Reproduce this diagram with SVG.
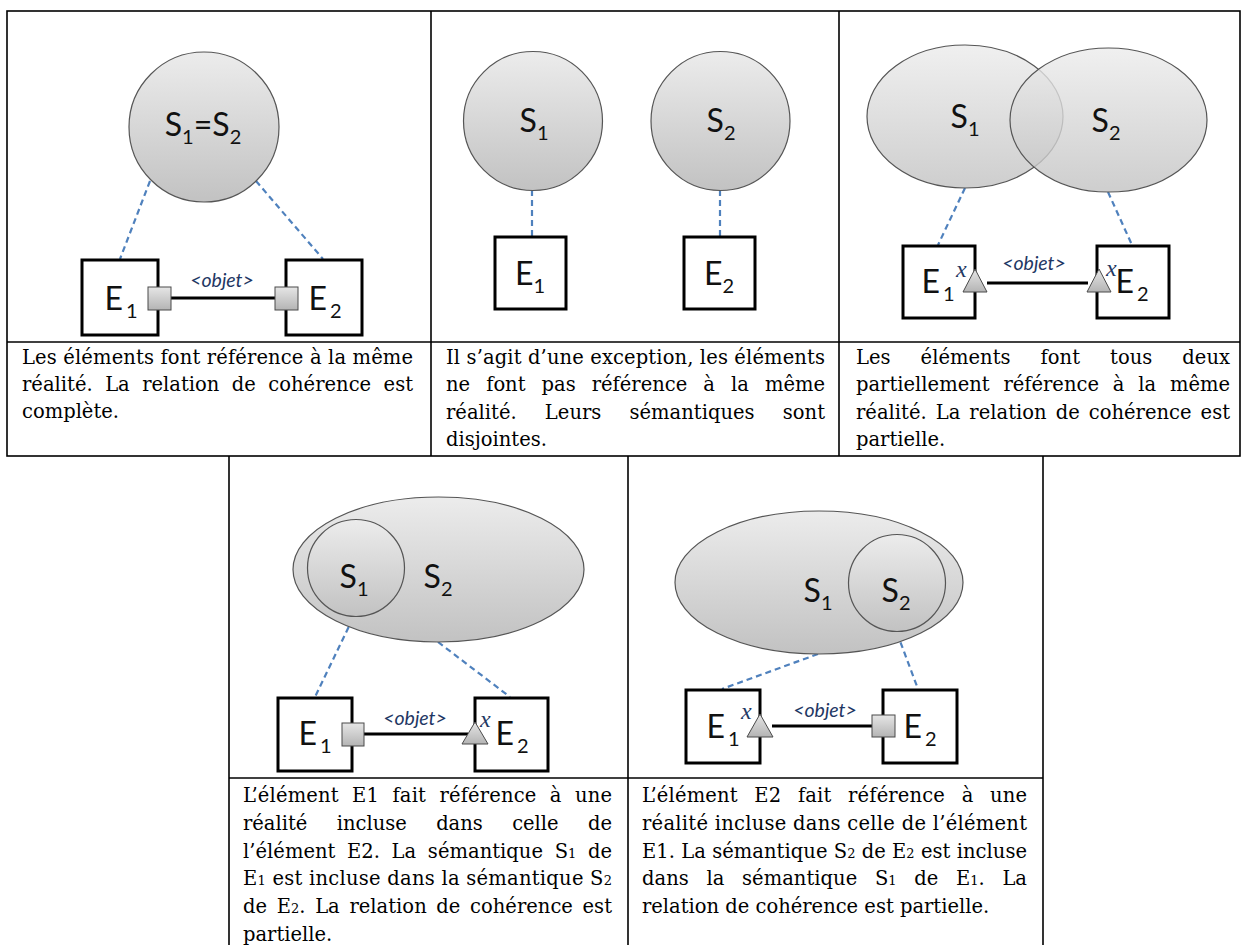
<svg xmlns="http://www.w3.org/2000/svg" width="1243" height="945" viewBox="0 0 1243 945">
<defs>
<linearGradient id="g" x1="0" y1="0" x2="0" y2="1"><stop offset="0" stop-color="#ececec"/><stop offset="1" stop-color="#c2c2c2"/></linearGradient>
<linearGradient id="gp" x1="0" y1="0" x2="0" y2="1"><stop offset="0" stop-color="#e6e6e6"/><stop offset="1" stop-color="#b4b4b4"/></linearGradient>
<style>
.cell{fill:none;stroke:#000;stroke-width:1.6}
.box{fill:#fff;stroke:#000;stroke-width:3}
.sem{fill:url(#g);stroke:#555;stroke-width:1.2}
.semt{fill:url(#g);fill-opacity:.8;stroke:#555;stroke-width:1.2}
.dash{stroke:#4F81BD;stroke-width:2.2;stroke-dasharray:6 4;fill:none}
.link{stroke:#000;stroke-width:3;fill:none}
.port{fill:url(#gp);stroke:#4a4a4a;stroke-width:1}
.lbl{font-family:Lato,"Liberation Sans",sans-serif;font-size:32px;fill:#111;text-anchor:middle}
.sub{font-size:20px}
.obj{font-family:Lato,"Liberation Sans",sans-serif;font-style:italic;font-size:19.5px;fill:#1F3864;text-anchor:middle}
.xl{font-family:"Liberation Serif",serif;font-style:italic;font-size:24px;fill:#1F3864}
.cap{font-family:"DejaVu Serif","Liberation Serif",serif;font-size:19.5px;fill:#000}
.cs{font-size:13px}
</style>
</defs>

<g id="table">
<rect class="cell" x="7" y="11" width="1233" height="445"/>
<line class="cell" x1="7" y1="342" x2="1240" y2="342"/>
<line class="cell" x1="431" y1="11" x2="431" y2="456"/>
<line class="cell" x1="839" y1="11" x2="839" y2="456"/>
<line class="cell" x1="229" y1="456" x2="229" y2="945"/>
<line class="cell" x1="628" y1="456" x2="628" y2="945"/>
<line class="cell" x1="1043" y1="456" x2="1043" y2="945"/>
<line class="cell" x1="229" y1="778" x2="1043" y2="778"/>
</g>

<g id="connectors">
<line class="dash" x1="150" y1="181" x2="120" y2="259"/>
<line class="dash" x1="256" y1="181" x2="323" y2="259"/>
<line class="link" x1="171" y1="298" x2="275" y2="298"/>
<line class="dash" x1="532" y1="190" x2="532" y2="236"/>
<line class="dash" x1="720" y1="190" x2="720" y2="236"/>
<line class="dash" x1="965" y1="188" x2="938" y2="245"/>
<line class="dash" x1="1108" y1="192" x2="1132" y2="245"/>
<line class="link" x1="987" y1="283" x2="1088" y2="283"/>
<line class="dash" x1="353" y1="618" x2="315" y2="697"/>
<line class="dash" x1="438" y1="642" x2="510" y2="697"/>
<line class="link" x1="364" y1="734" x2="468" y2="734"/>
<line class="dash" x1="818" y1="654" x2="722" y2="689"/>
<line class="dash" x1="897" y1="633" x2="918" y2="689"/>
<line class="link" x1="772" y1="726" x2="872" y2="726"/>
</g>

<g id="panel1">
<circle class="sem" cx="204" cy="127" r="75"/>
<text class="lbl" x="203" y="136">S<tspan class="sub" dy="8">1</tspan><tspan dy="-8">=S</tspan><tspan class="sub" dy="8">2</tspan></text>
<rect class="box" x="82" y="260" width="76" height="75"/>
<rect class="box" x="286" y="260" width="76" height="75"/>
<text class="lbl" x="121" y="310">E<tspan class="sub" dx="3" dy="8">1</tspan></text>
<text class="lbl" x="325" y="310">E<tspan class="sub" dx="3" dy="8">2</tspan></text>
<rect class="port" x="148" y="287" width="23" height="23"/>
<rect class="port" x="275" y="287" width="23" height="23"/>
<text class="obj" x="222" y="287">&lt;objet&gt;</text>
</g>

<g id="panel2">
<circle class="sem" cx="533" cy="121" r="69.5"/>
<circle class="sem" cx="720.5" cy="121" r="69.5"/>
<text class="lbl" x="534" y="132">S<tspan class="sub" dy="8">1</tspan></text>
<text class="lbl" x="721" y="132">S<tspan class="sub" dy="8">2</tspan></text>
<rect class="box" x="495" y="237" width="71" height="72"/>
<rect class="box" x="684" y="237" width="71" height="72"/>
<text class="lbl" x="530" y="285">E<tspan class="sub" dy="8">1</tspan></text>
<text class="lbl" x="719" y="285">E<tspan class="sub" dy="8">2</tspan></text>
</g>

<g id="panel3">
<ellipse class="semt" cx="965" cy="116.5" rx="98" ry="71.5"/>
<ellipse class="semt" cx="1108.5" cy="120" rx="98.5" ry="72"/>
<text class="lbl" x="965" y="128">S<tspan class="sub" dy="8">1</tspan></text>
<text class="lbl" x="1106" y="132">S<tspan class="sub" dy="8">2</tspan></text>
<rect class="box" x="903" y="246" width="72" height="72"/>
<rect class="box" x="1097" y="246" width="72" height="72"/>
<text class="lbl" x="938" y="293">E<tspan class="sub" dx="3" dy="8">1</tspan></text>
<text class="lbl" x="1132" y="293">E<tspan class="sub" dx="3" dy="8">2</tspan></text>
<polygon class="port" points="975,269 987,292 963,292"/>
<polygon class="port" points="1099,269 1111,292 1087,292"/>
<text class="xl" x="956" y="277">x</text>
<text class="xl" x="1106" y="276">x</text>
<text class="obj" x="1034" y="270">&lt;objet&gt;</text>
</g>

<g id="panel4">
<ellipse class="sem" cx="438.5" cy="569.5" rx="145.5" ry="72.5"/>
<circle class="sem" cx="356" cy="568" r="48.5"/>
<text class="lbl" x="354" y="588">S<tspan class="sub" dy="8">1</tspan></text>
<text class="lbl" x="438" y="588">S<tspan class="sub" dy="8">2</tspan></text>
<rect class="box" x="278" y="698" width="74" height="73"/>
<rect class="box" x="475" y="698" width="73" height="73"/>
<text class="lbl" x="315" y="745">E<tspan class="sub" dx="3" dy="8">1</tspan></text>
<text class="lbl" x="512" y="745">E<tspan class="sub" dx="3" dy="8">2</tspan></text>
<rect class="port" x="342" y="723" width="22" height="23"/>
<polygon class="port" points="475,722 488,744 462,744"/>
<text class="xl" x="480" y="727">x</text>
<text class="obj" x="415" y="725">&lt;objet&gt;</text>
</g>

<g id="panel5">
<ellipse class="sem" cx="819" cy="582.5" rx="144" ry="71.5"/>
<circle class="sem" cx="897" cy="583" r="48.5"/>
<text class="lbl" x="818" y="602">S<tspan class="sub" dy="8">1</tspan></text>
<text class="lbl" x="896" y="602">S<tspan class="sub" dy="8">2</tspan></text>
<rect class="box" x="686" y="690" width="74" height="73"/>
<rect class="box" x="883" y="690" width="74" height="73"/>
<text class="lbl" x="723" y="738">E<tspan class="sub" dx="3" dy="8">1</tspan></text>
<text class="lbl" x="920" y="738">E<tspan class="sub" dx="3" dy="8">2</tspan></text>
<polygon class="port" points="760,714 773,737 747,737"/>
<rect class="port" x="872" y="715" width="23" height="22"/>
<text class="xl" x="741" y="719">x</text>
<text class="obj" x="825" y="717">&lt;objet&gt;</text>
</g>

<g id="caption1" class="cap">
<text x="22" y="364" textLength="391" lengthAdjust="spacing">Les éléments font référence à la même</text>
<text x="22" y="391" word-spacing="6.2" textLength="391" lengthAdjust="spacing">réalité. La relation de cohérence est</text>
<text x="22" y="418">complète.</text>
</g>

<g id="caption2" class="cap">
<text x="446" y="364" textLength="379" lengthAdjust="spacing">Il s’agit d’une exception, les éléments</text>
<text x="446" y="391" word-spacing="9.9" textLength="379" lengthAdjust="spacing">ne font pas référence à la même</text>
<text x="446" y="419" word-spacing="21.9" textLength="379" lengthAdjust="spacing">réalité. Leurs sémantiques sont</text>
<text x="446" y="446">disjointes.</text>
</g>

<g id="caption3" class="cap">
<text x="856" y="364" word-spacing="23.8" textLength="374" lengthAdjust="spacing">Les éléments font tous deux</text>
<text x="856" y="391" word-spacing="7.6" textLength="374" lengthAdjust="spacing">partiellement référence à la même</text>
<text x="856" y="419" word-spacing="2.8" textLength="374" lengthAdjust="spacing">réalité. La relation de cohérence est</text>
<text x="856" y="446">partielle.</text>
</g>

<g id="caption4" class="cap">
<text x="243" y="802" word-spacing="7" textLength="369" lengthAdjust="spacing">L’élément E1 fait référence à une</text>
<text x="243" y="830" word-spacing="23.1" textLength="369" lengthAdjust="spacing">réalité incluse dans celle de</text>
<text x="243" y="858" word-spacing="5.4" textLength="369" lengthAdjust="spacing">l’élément E2. La sémantique S<tspan class="cs">1</tspan> de</text>
<text x="243" y="885" textLength="369" lengthAdjust="spacing">E<tspan class="cs">1</tspan> est incluse dans la sémantique S<tspan class="cs">2</tspan></text>
<text x="243" y="913" word-spacing="3.4" textLength="369" lengthAdjust="spacing">de E<tspan class="cs">2</tspan>. La relation de cohérence est</text>
<text x="243" y="941">partielle.</text>
</g>

<g id="caption5" class="cap">
<text x="642" y="802" word-spacing="10.2" textLength="385" lengthAdjust="spacing">L’élément E2 fait référence à une</text>
<text x="642" y="830" textLength="385" lengthAdjust="spacing">réalité incluse dans celle de l’élément</text>
<text x="642" y="858" textLength="385" lengthAdjust="spacing">E1. La sémantique S<tspan class="cs">2</tspan> de E<tspan class="cs">2</tspan> est incluse</text>
<text x="642" y="885" word-spacing="11.4" textLength="385" lengthAdjust="spacing">dans la sémantique S<tspan class="cs">1</tspan> de E<tspan class="cs">1</tspan>. La</text>
<text x="642" y="913">relation de cohérence est partielle.</text>
</g>
</svg>
